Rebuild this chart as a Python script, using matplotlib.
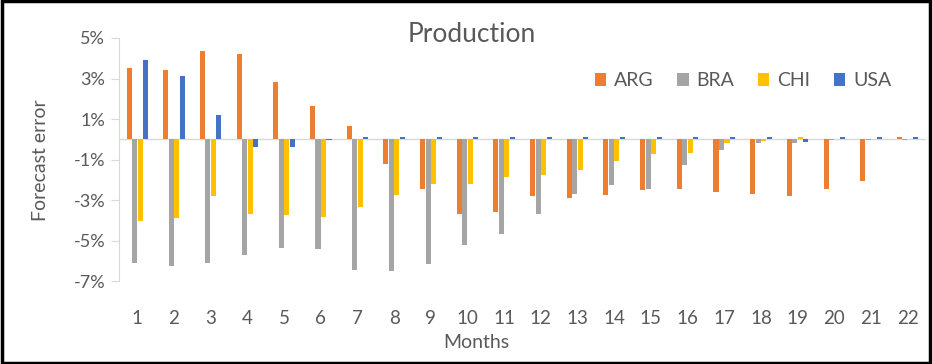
import numpy as np
import matplotlib.pyplot as plt
from matplotlib.patches import Rectangle
from matplotlib.ticker import FuncFormatter

plt.rcParams['font.family'] = ['Lato', 'DejaVu Sans']

months = [str(m) for m in range(1, 23)]
countries = ['ARG', 'BRA', 'CHI', 'USA']
colores = ['#ED7D31', '#A5A5A5', '#FFC000', '#4472C4']

# forecast error in percent, one value per month
arg = [3.5, 3.4, 4.35, 4.2, 2.85, 1.65, 0.65, -1.2, -2.45, -3.7, -3.6,
       -2.8, -2.9, -2.75, -2.5, -2.45, -2.6, -2.7, -2.8, -2.45, -2.05, 0.12]
bra = [-6.1, -6.25, -6.1, -5.7, -5.35, -5.4, -6.45, -6.5, -6.15, -5.2, -4.7,
       -3.7, -2.7, -2.25, -2.45, -1.25, -0.55, -0.2, -0.2, -0.05, -0.05, -0.05]
chi = [-4.05, -3.9, -2.8, -3.7, -3.75, -3.85, -3.35, -2.75, -2.2, -2.2, -1.85,
       -1.75, -1.5, -1.05, -0.75, -0.7, -0.2, -0.1, 0.1, 0.0, 0.0, 0.0]
usa = [3.9, 3.1, 1.2, -0.4, -0.4, -0.05, 0.1, 0.1, 0.1, 0.12, 0.12,
       0.1, 0.1, 0.1, 0.1, 0.1, 0.1, 0.1, -0.15, 0.1, 0.1, 0.1]
series = [arg, bra, chi, usa]

gris = '#595959'

fig = plt.figure(figsize=(9.32, 3.64), dpi=100)
ax = fig.add_axes([119 / 932, 1 - 281 / 364, 807 / 932, 243 / 364])

x = np.arange(len(months))
ancho = 0.15
for i, (vals, c) in enumerate(zip(series, colores)):
    ax.bar(x + (i - 1.5) * ancho, np.array(vals) / 100, width=ancho * 0.92,
           color=c, label=countries[i], zorder=3)

ax.axhline(0, color='#D9D9D9', lw=1, zorder=2)
ax.set_xlim(-0.5, len(months) - 0.5)
ax.set_ylim(-0.07, 0.05)
ax.set_yticks(np.arange(-0.07, 0.051, 0.02))
ax.yaxis.set_major_formatter(FuncFormatter(lambda v, p: f'{round(v * 100):d}%'))
ax.set_xticks(x)
ax.set_xticklabels(months)

for s in ['top', 'right', 'bottom']:
    ax.spines[s].set_visible(False)
ax.spines['left'].set_color('#D9D9D9')
ax.tick_params(axis='y', colors='#D9D9D9', labelcolor=gris, labelsize=13, length=6, pad=4)
ax.tick_params(axis='x', length=0, labelcolor=gris, labelsize=13.5, pad=21)

# titulos de ejes y grafico
fig.text(476 / 932, 1 - 343 / 364, 'Months', ha='center', va='center',
         fontsize=14, color=gris)
fig.text(40 / 932, 1 - 160 / 364, 'Forecast error', ha='center', va='center',
         rotation=90, fontsize=14, color=gris)
fig.text(472 / 932, 1 - 35 / 364, 'Production', ha='center', va='center',
         fontsize=19, color=gris)

ax.legend(loc='center left', bbox_to_anchor=(585 / 932, 1 - 81 / 364),
          bbox_transform=fig.transFigure, ncol=4, frameon=False,
          fontsize=14, labelcolor=gris, handlelength=0.6, handleheight=0.6,
          handletextpad=0.4, columnspacing=1.2, borderpad=0)

fig.patches.append(Rectangle((0.002, 0.004), 0.996, 0.992, transform=fig.transFigure,
                             fill=False, edgecolor='black', lw=2.5))

plt.savefig('out.png', dpi=100)
